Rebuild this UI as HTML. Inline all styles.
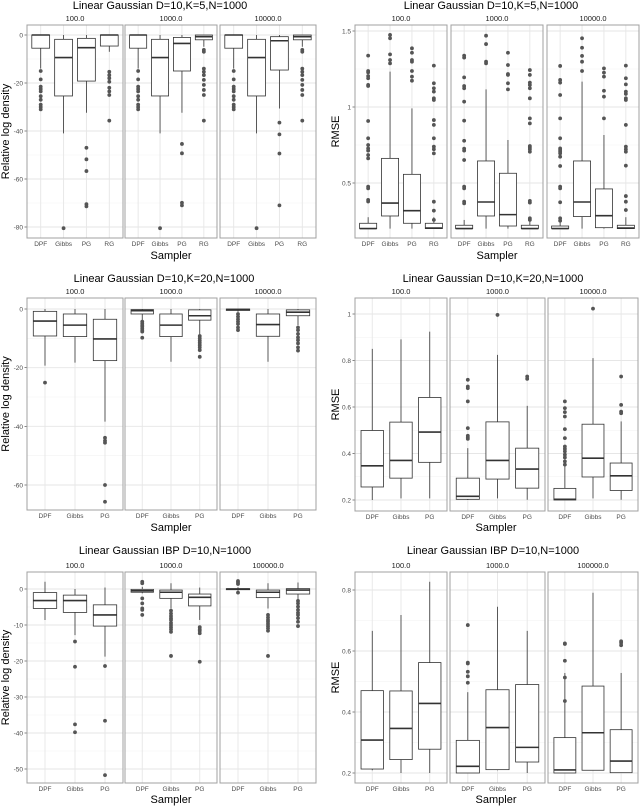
<!DOCTYPE html>
<html><head><meta charset="utf-8">
<style>
html,body{margin:0;padding:0;background:#fff;}
svg{display:block;font-family:"Liberation Sans",sans-serif;}
</style></head>
<body>
<svg id="fig" width="640" height="807" viewBox="0 0 640 807" xmlns="http://www.w3.org/2000/svg"></svg>
<script>
// ===== Data: Panel A (K=5 log density) =====
const A_cats = ["DPF","Gibbs","PG","RG"];
const A_facets = ["100.0","1000.0","10000.0"];
const A_ticks = [0,-20,-40,-60,-80];
const A_lo  = [[-14,-41,-32.4,-7],[-14,-41,-32.4,-4.9],[-14,-41,-30.6,-4.9]];
const A_q1  = [[-5.5,-25.4,-19.2,-4.6],[-5.5,-25.4,-15,-2],[-5.5,-25.4,-14.6,-2]];
const A_med = [[0,-9.4,-5.3,0],[0,-9.4,-3.5,-0.7],[0,-9.4,-2.4,-0.7]];
const A_q3  = [[0,-1.8,-1.4,0],[0,-1.8,-1,0],[0,-1.8,-0.7,0]];
const A_hi  = [[0,0,0,0],[0,0,0,0],[0,0,0,0]];
const A_out = [
 [[-15,-18.5,-21.5,-22.5,-23.5,-25.5,-27,-29,-30,-31],[-80.5],[-47,-51.8,-56.7,-70.5,-71.4],[-15.3,-16.7,-18,-19.5,-22,-23.5,-25,-35.7]],
 [[-15,-18.5,-21.5,-22.5,-23.5,-25.5,-27,-29,-30,-31],[-80.5],[-45.4,-49.3,-69.9,-71],[-6.2,-7,-14,-15.3,-16.7,-18.7,-20.8,-22.9,-25,-35.7]],
 [[-15,-18.5,-21.5,-22.5,-23.5,-25.5,-27,-29,-30,-31],[-80.5],[-36.5,-41.4,-49.4,-71],[-6.2,-7,-14,-15.3,-16.7,-18.7,-20.8,-22.9,-25,-35.7]]
];
// ===== Panel B (K=5 RMSE) =====
const B_cats = ["DPF","Gibbs","PG","RG"];
const B_facets = ["100.0","1000.0","10000.0"];
const B_ticks = [0.5,1,1.5];
const B_tickLabels = ["0.5","1","1.5"];
const B_lo  = [[0.2,0.2,0.2,0.2],[0.2,0.2,0.2,0.2],[0.2,0.2,0.2,0.2]];
const B_q1  = [[0.2,0.283,0.235,0.2],[0.2,0.283,0.217,0.2],[0.2,0.279,0.206,0.2]];
const B_med = [[0.2,0.368,0.318,0.204],[0.2,0.375,0.292,0.2],[0.2,0.375,0.285,0.204]];
const B_q3  = [[0.235,0.662,0.557,0.235],[0.222,0.645,0.564,0.222],[0.217,0.645,0.461,0.222]];
const B_hi  = [[0.275,1.233,0.991,0.275],[0.257,1.116,0.783,0.257],[0.279,1.167,0.816,0.275]];
const B_out = [
 [[1.338,1.237,1.228,1.204,1.189,1.145,1.138,0.908,0.794,0.750,0.728,0.713,0.684,0.662,0.476,0.465,0.389,0.378],
  [1.474,1.452,1.346,1.309,1.287],
  [1.386,1.357,1.309,1.298,1.237,1.2,1.173],
  [1.272,1.156,1.123,1.101,1.057,1.046,0.914,0.882,0.794,0.739,0.722,0.695,0.377,0.318,0.257]],
 [[1.338,1.325,1.195,1.138,1.123,1.035,0.910,0.778,0.726,0.713,0.651,0.476,0.465,0.377,0.366],
  [1.469,1.414,1.298,1.287],
  [1.357,1.276,1.217,1.211,1.156,1.116],
  [1.243,1.211,1.160,1.145,1.123,1.057,0.925,0.892,0.743,0.732,0.722,0.706,0.382,0.371,0.268,0.257]],
 [[1.270,1.178,1.160,1.079,0.925,0.794,0.728,0.717,0.706,0.695,0.673,0.612,0.476,0.465,0.373,0.268,0.252],
  [1.452,1.390,1.336,1.298,1.237],
  [1.254,1.226,1.2,1.107,1.068,0.925],
  [1.272,1.189,1.149,1.101,1.086,1.057,1.046,0.882,0.739,0.722,0.706,0.614,0.414,0.377,0.322]]
];
// ===== Panel C (K=20 log density) =====
const C_cats = ["DPF","Gibbs","PG"];
const C_facets = ["100.0","1000.0","10000.0"];
const C_ticks = [0,-20,-40,-60];
const C_lo  = [[-19.3,-18.3,-38.4],[-3.8,-18,-8.9],[-1,-18,-5.5]];
const C_q1  = [[-9.2,-9.4,-17.6],[-1.7,-9.4,-3.8],[-0.5,-9.3,-2.3]];
const C_med = [[-4.1,-5.5,-10.2],[-0.6,-5.5,-2.3],[-0.2,-5.3,-1.1]];
const C_q3  = [[-0.8,-1.7,-3.5],[-0.2,-1.7,-0.3],[0,-1.7,-0.3]];
const C_hi  = [[0,0,0],[0,0,0],[0,0,0]];
const C_out = [
 [[-25.1],[],[-43.9,-44.9,-45.6,-60,-65.7]],
 [[-4.3,-4.9,-5.5,-6,-6.6,-7.2,-7.7,-9.8],[],[-9.2,-10,-10.8,-11.5,-12.3,-13.1,-14,-16.3]],
 [[-1.7,-2.6,-3.5,-4.3,-5.1,-6.3,-7.2],[],[-6.3,-7.2,-8.5,-9.7,-10.6,-11.7,-13.1,-14.2]]
];
// ===== Panel D (K=20 RMSE) =====
const D_cats = ["DPF","Gibbs","PG"];
const D_facets = ["100.0","1000.0","10000.0"];
const D_ticks = [0.2,0.4,0.6,0.8,1.0];
const D_tickLabels = ["0.2","0.4","0.6","0.8","1"];
const D_lo  = [[0.2,0.207,0.207],[0.2,0.207,0.201],[0.2,0.207,0.201]];
const D_q1  = [[0.256,0.294,0.362],[0.203,0.290,0.251],[0.2,0.299,0.241]];
const D_med = [[0.347,0.370,0.492],[0.216,0.370,0.333],[0.203,0.380,0.304]];
const D_q3  = [[0.499,0.535,0.641],[0.294,0.536,0.423],[0.25,0.526,0.359]];
const D_hi  = [[0.850,0.891,0.924],[0.423,0.824,0.605],[0.359,0.810,0.538]];
const D_out = [
 [[],[],[]],
 [[0.717,0.688,0.681,0.624,0.509,0.476,0.469,0.463],[0.996],[0.731,0.721]],
 [[0.624,0.595,0.578,0.559,0.505,0.466,0.430,0.420,0.409,0.395,0.383,0.366,0.352],[1.023],[0.731,0.609,0.580,0.573]]
];
// ===== Panel E (IBP log density) =====
const E_cats = ["DPF","Gibbs","PG"];
const E_facets = ["100.0","1000.0","100000.0"];
const E_ticks = [0,-10,-20,-30,-40,-50];
const E_lo  = [[-8.6,-12.8,-18.8],[-1.2,-5.4,-8.6],[-0.5,-5.4,-2.9]];
const E_q1  = [[-5.4,-6.5,-10.3],[-0.9,-2.6,-4.7],[-0.2,-2.4,-1.4]];
const E_med = [[-3.2,-3.2,-7.2],[-0.5,-0.9,-2.3],[0,-0.9,-0.3]];
const E_q3  = [[-1,-1.7,-4.4],[-0.1,-0.3,-1.4],[0.1,-0.3,0.1]];
const E_hi  = [[2,0,0.4],[0.6,1.6,0.4],[0.5,1.6,1.8]];
const E_out = [
 [[],[-14.6,-21.6,-37.6,-39.8],[-21.4,-36.6,-51.7]],
 [[2,1.6,-2.6,-4,-5.4,-5.8,-7.2],[-6,-6.8,-7.5,-8.1,-8.6,-9.4,-10,-10.6,-11.2,-11.9,-18.6],[-10.6,-11.2,-11.6,-12.3,-20.2]],
 [[2.2,1.8,1.4,-1],[-7.2,-7.9,-8.6,-9.1,-9.7,-10.3,-10.9,-11.6,-18.6],[-3.3,-4,-4.9,-5.8,-6.6,-7.2,-8.1,-9.1,-10.3]]
];
// ===== Panel F (IBP RMSE) =====
const F_cats = ["DPF","Gibbs","PG"];
const F_facets = ["100.0","1000.0","100000.0"];
const F_ticks = [0.2,0.4,0.6,0.8];
const F_tickLabels = ["0.2","0.4","0.6","0.8"];
const F_lo  = [[0.209,0.2,0.2],[0.2,0.209,0.2],[0.2,0.209,0.2]];
const F_q1  = [[0.213,0.244,0.278],[0.2,0.211,0.236],[0.2,0.209,0.201]];
const F_med = [[0.308,0.346,0.428],[0.222,0.349,0.284],[0.210,0.332,0.239]];
const F_q3  = [[0.470,0.469,0.562],[0.307,0.473,0.490],[0.316,0.485,0.342]];
const F_hi  = [[0.666,0.718,0.827],[0.465,0.745,0.666],[0.528,0.791,0.528]];
const F_out = [
 [[],[],[]],
 [[0.685,0.562,0.559,0.532,0.517,0.496],[],[]],
 [[0.625,0.623,0.568,0.513,0.436],[],[0.632,0.627,0.619]]
];

const NS = "http://www.w3.org/2000/svg";
const svg = document.getElementById('fig');
function mk(tag, attrs, parent){
  const e = document.createElementNS(NS, tag);
  for (const k in attrs) e.setAttribute(k, attrs[k]);
  (parent||svg).appendChild(e);
  return e;
}
function txt(s, attrs, parent){ const e = mk('text', attrs, parent); e.textContent = s; return e; }

function drawPanel(p){
  const g = mk('g', {});
  
  
  const ys = v => p.y0px + (v - p.y0v) * (p.y1px - p.y0px) / (p.y1v - p.y0v);
  const title = txt(p.title, {x:p.titleX, y:p.titleY, 'font-size':11, 'text-anchor':'middle', fill:'#000'}, g);
  
  
  const yl = txt(p.ylabel, {x:0, y:0, 'font-size':11, 'text-anchor':'middle', fill:'#000',
      transform:`translate(${p.ylabX},${(p.top+p.bottom)/2}) rotate(-90)`}, g);
  
  
  const xl = txt('Sampler', {x:p.xlabCX, y:p.xlabY, 'font-size':11, 'text-anchor':'middle', fill:'#000'}, g);
  
  
  p.ticks.forEach((t,i) => {
    const lab = p.tickLabels ? p.tickLabels[i] : String(t);
    const tl = txt(lab, {x:p.facetX[0][0]-4, y:ys(t)+2.5, 'font-size':6.5, 'text-anchor':'end', fill:'#4d4d4d'}, g);
    
    
  });
  const n = p.cats.length;
  p.facets.forEach((fl, fi) => {
    const [x0, x1] = p.facetX[fi];
    const w = x1 - x0;
    const fg = mk('g', {}, g);
    
    
    const st = txt(fl, {x:(x0+x1)/2, y:p.top-4, 'font-size':7.5, 'text-anchor':'middle', fill:'#1a1a1a'}, fg);
    
    
    const xs = i => x0 + (i + 1 - 0.4) / (n + 0.2) * w;
    const unit = w / (n + 0.2);
    for (let k = 0; k < p.ticks.length - 1; k++) {
      const m = (p.ticks[k] + p.ticks[k+1]) / 2;
      mk('line', {x1:x0, x2:x1, y1:ys(m), y2:ys(m), stroke:'#f2f2f2', 'stroke-width':0.6}, fg);
    }
    p.ticks.forEach(t => {
      mk('line', {x1:x0, x2:x1, y1:ys(t), y2:ys(t), stroke:'#e6e6e6', 'stroke-width':0.9}, fg);
      if (fi === 0) mk('line', {x1:x0-2.5, x2:x0, y1:ys(t), y2:ys(t), stroke:'#333', 'stroke-width':0.6}, fg);
    });
    for (let i = 0; i < n; i++) mk('line', {x1:xs(i), x2:xs(i), y1:p.top, y2:p.bottom, stroke:'#e6e6e6', 'stroke-width':0.9}, fg);
    for (let i = 0; i < n; i++) {
      const cx = xs(i), bw = unit * 0.78;
      const bg = mk('g', {}, fg);
      
      
      const lo = p.lo[fi][i], q1 = p.q1[fi][i], med = p.med[fi][i], q3 = p.q3[fi][i], hi = p.hi[fi][i];
      mk('line', {x1:cx, x2:cx, y1:ys(hi), y2:ys(q3), stroke:'#333', 'stroke-width':0.8}, bg);
      mk('line', {x1:cx, x2:cx, y1:ys(q1), y2:ys(lo), stroke:'#333', 'stroke-width':0.8}, bg);
      const top = Math.min(ys(q3), ys(q1)), h = Math.max(Math.abs(ys(q1) - ys(q3)), 0.5);
      mk('rect', {x:cx-bw/2, y:top, width:bw, height:h, fill:'#fff', stroke:'#333', 'stroke-width':0.8}, bg);
      mk('line', {x1:cx-bw/2, x2:cx+bw/2, y1:ys(med), y2:ys(med), stroke:'#333', 'stroke-width':1.6}, bg);
      p.out[fi][i].forEach(v => {
        const c = mk('circle', {cx:cx, cy:ys(v), r:1.9, fill:'#555'}, bg);
        
        
      });
      const xt = txt(p.cats[i], {x:cx, y:p.bottom+8, 'font-size':6.5, 'text-anchor':'middle', fill:'#4d4d4d'}, fg);
      
      
    }
    const fr = mk('rect', {x:x0, y:p.top, width:w, height:p.bottom-p.top, fill:'none', stroke:'#a0a0a0', 'stroke-width':1}, fg);
    
    
  });
}

const LX = [[27,123],[125,217],[220,316]];
const RX1 = [[355,447],[451,543],[547,639]];
const RX2 = [[355,447],[450,545],[548,638]];
drawPanel({name:'panel-k5-logdensity', title:'Linear Gaussian D=10,K=5,N=1000', ylabel:'Relative log density',
  titleX:160, titleY:9, ylabX:9, xlabCX:171, xlabY:259, top:25, bottom:238, facetX:LX,
  y0v:0, y0px:35, y1v:-80, y1px:227, ticks:A_ticks, cats:A_cats, facets:A_facets,
  lo:A_lo, q1:A_q1, med:A_med, q3:A_q3, hi:A_hi, out:A_out});
drawPanel({name:'panel-k5-rmse', title:'Linear Gaussian D=10,K=5,N=1000', ylabel:'RMSE',
  titleX:491, titleY:9, ylabX:339, xlabCX:497, xlabY:259, top:25, bottom:238, facetX:RX1,
  y0v:1.5, y0px:31, y1v:0.5, y1px:183, ticks:B_ticks, tickLabels:B_tickLabels, cats:B_cats, facets:B_facets,
  lo:B_lo, q1:B_q1, med:B_med, q3:B_q3, hi:B_hi, out:B_out});
drawPanel({name:'panel-k20-logdensity', title:'Linear Gaussian D=10,K=20,N=1000', ylabel:'Relative log density',
  titleX:164, titleY:282, ylabX:9, xlabCX:171, xlabY:531, top:298, bottom:510, facetX:LX,
  y0v:0, y0px:309, y1v:-60, y1px:485, ticks:C_ticks, cats:C_cats, facets:C_facets,
  lo:C_lo, q1:C_q1, med:C_med, q3:C_q3, hi:C_hi, out:C_out});
drawPanel({name:'panel-k20-rmse', title:'Linear Gaussian D=10,K=20,N=1000', ylabel:'RMSE',
  titleX:493, titleY:282, ylabX:339, xlabCX:496, xlabY:531, top:298, bottom:511, facetX:RX2,
  y0v:1.0, y0px:314, y1v:0.2, y1px:500, ticks:D_ticks, tickLabels:D_tickLabels, cats:D_cats, facets:D_facets,
  lo:D_lo, q1:D_q1, med:D_med, q3:D_q3, hi:D_hi, out:D_out});
drawPanel({name:'panel-ibp-logdensity', title:'Linear Gaussian IBP D=10,N=1000', ylabel:'Relative log density',
  titleX:165, titleY:554, ylabX:9, xlabCX:171, xlabY:803, top:572, bottom:783, facetX:LX,
  y0v:0, y0px:589, y1v:-50, y1px:769, ticks:E_ticks, cats:E_cats, facets:E_facets,
  lo:E_lo, q1:E_q1, med:E_med, q3:E_q3, hi:E_hi, out:E_out});
drawPanel({name:'panel-ibp-rmse', title:'Linear Gaussian IBP D=10,N=1000', ylabel:'RMSE',
  titleX:493, titleY:554, ylabX:339, xlabCX:496, xlabY:803, top:572, bottom:783, facetX:RX2,
  y0v:0.8, y0px:590, y1v:0.2, y1px:773, ticks:F_ticks, tickLabels:F_tickLabels, cats:F_cats, facets:F_facets,
  lo:F_lo, q1:F_q1, med:F_med, q3:F_q3, hi:F_hi, out:F_out});
</script>
</body></html>
